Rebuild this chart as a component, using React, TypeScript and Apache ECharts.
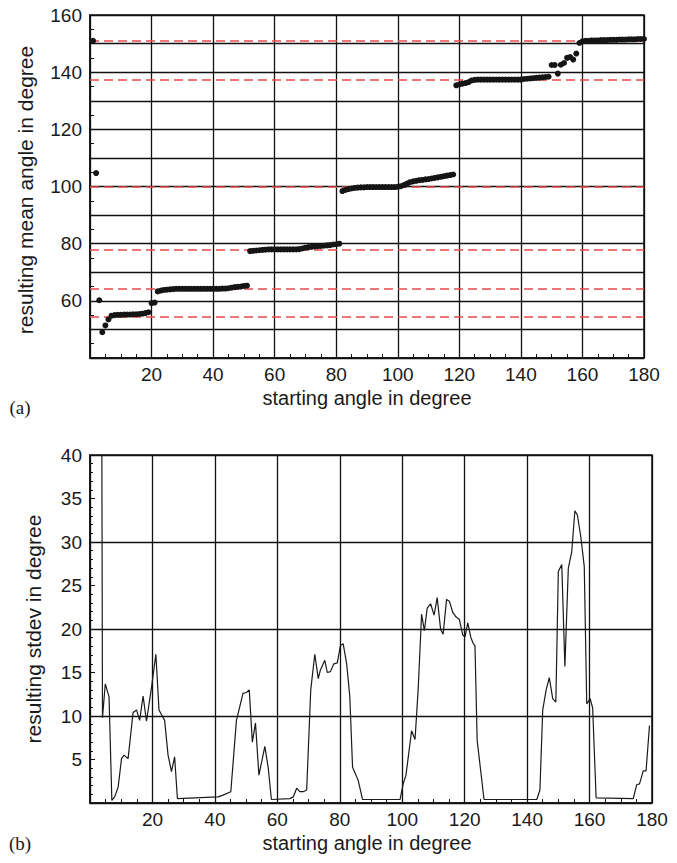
import React, { useEffect, useRef } from "react";
import * as echarts from "echarts";

// ---- data (a): resulting mean angle vs starting angle ----
const meanX: number[] = Array.from({ length: 180 }, (_, i) => i + 1);
const meanY: number[] = [
  151.0, 104.7, 60.2, 49.0, 51.4, 53.5, 54.8, 55.0, 55.1, 55.1,
  55.2, 55.2, 55.2, 55.3, 55.3, 55.4, 55.5, 55.7, 56.0, 59.2,
  59.4, 63.3, 63.6, 63.8, 63.9, 64.0, 64.1, 64.2, 64.2, 64.2,
  64.2, 64.2, 64.2, 64.2, 64.2, 64.2, 64.2, 64.2, 64.2, 64.2,
  64.2, 64.2, 64.3, 64.3, 64.4, 64.6, 64.8, 64.9, 65.0, 65.2,
  65.3, 77.4, 77.5, 77.6, 77.7, 77.8, 77.9, 78.0, 78.0, 78.0,
  78.0, 78.0, 78.0, 78.0, 78.0, 78.0, 78.0, 78.1, 78.3, 78.6,
  78.8, 78.9, 79.0, 79.1, 79.2, 79.3, 79.4, 79.5, 79.7, 79.8,
  80.0, 98.4, 98.8, 99.1, 99.3, 99.5, 99.6, 99.7, 99.7, 99.8,
  99.8, 99.8, 99.8, 99.8, 99.8, 99.8, 99.8, 99.8, 99.8, 99.9,
  100.1, 100.5, 101.0, 101.5, 101.8, 102.0, 102.2, 102.3, 102.5, 102.6,
  102.8, 103.0, 103.2, 103.4, 103.6, 103.8, 104.0, 104.2, 135.4, 135.7,
  136.0, 136.2, 136.5, 137.1, 137.3, 137.4, 137.4, 137.4, 137.4, 137.4,
  137.4, 137.4, 137.4, 137.4, 137.4, 137.4, 137.4, 137.4, 137.4, 137.4,
  137.6, 137.7, 137.8, 137.9, 138.0, 138.1, 138.2, 138.3, 138.4, 142.5,
  142.5, 139.5, 142.6, 143.2, 145.0, 145.3, 144.4, 146.5, 150.2, 150.8,
  151.0, 151.0, 151.1, 151.1, 151.1, 151.2, 151.2, 151.2, 151.3, 151.3,
  151.3, 151.4, 151.4, 151.4, 151.5, 151.5, 151.5, 151.6, 151.6, 151.6,
];
const refLines: number[] = [151.1, 137.4, 99.8, 78.0, 64.3, 54.5];

// ---- data (b): resulting stdev vs starting angle ----
const stdevX: number[] = [
  3.8, 4.0, 4.9, 6.1, 7.0, 7.9, 9.0, 10.1, 10.9, 12.2, 13.8, 14.9, 15.9, 17.0, 18.1,
  19.7, 21.1, 22.1, 23.9, 25.0, 26.1, 27.1, 28.0, 41.0, 42.6, 45.1, 46.9, 49.0, 50.1,
  51.0, 52.0, 53.0, 54.1, 56.0, 57.1, 58.1, 64.0, 65.1, 66.2, 67.2, 68.3, 69.4, 70.7,
  72.0, 73.1, 73.8, 75.2, 76.0, 77.0, 78.1, 79.2, 80.2, 81.1, 82.2, 83.2, 84.1, 85.9,
  87.3, 99.3, 100.3, 101.2, 103.0, 104.1, 105.1, 106.2, 107.1, 108.0, 109.1, 110.2,
  111.2, 112.3, 113.1, 114.2, 115.1, 116.2, 117.2, 118.3, 119.4, 120.1, 121.0, 122.0,
  122.8, 123.3, 124.0, 126.2, 143.1, 144.1, 145.0, 146.1, 147.1, 148.2, 149.2, 150.0,
  151.1, 152.1, 153.2, 154.3, 155.3, 156.1, 157.2, 158.3, 159.1, 160.2, 161.0, 162.1,
  174.0, 175.1, 176.0, 177.2, 178.1, 179.2,
];
const stdevY: number[] = [
  40.0, 9.8, 13.7, 12.2, 0.3, 0.7, 1.8, 5.1, 5.5, 5.1, 10.4, 10.7, 9.5, 12.3, 9.4,
  13.3, 17.1, 10.7, 9.5, 5.5, 3.6, 5.3, 0.5, 0.7, 0.9, 1.3, 9.5, 12.6, 12.7,
  13.0, 7.0, 9.2, 3.2, 6.5, 4.0, 0.4, 0.5, 0.7, 1.7, 1.3, 1.3, 1.5, 13.0,
  17.1, 14.3, 15.3, 16.4, 15.0, 15.1, 16.0, 16.1, 18.1, 18.3, 16.0, 12.3, 4.1, 2.6,
  0.4, 0.4, 2.2, 3.2, 8.3, 7.3, 13.0, 21.7, 19.8, 22.4, 22.9, 21.6,
  23.6, 19.95, 19.4, 23.4, 23.2, 21.9, 21.4, 21.1, 19.3, 19.1, 20.7, 19.0,
  18.3, 18.1, 7.2, 0.4, 0.4, 1.5, 10.7, 13.0, 14.4, 12.0, 11.6, 26.6,
  27.4, 15.7, 27.0, 28.9, 33.6, 33.1, 30.6, 27.2, 11.4, 12.0, 10.9, 0.6,
  0.5, 2.1, 2.2, 3.7, 3.7, 8.9,
];

const SANS = '"Liberation Sans", Arial, Helvetica, sans-serif';
const SERIF = '"Liberation Serif", "Times New Roman", serif';
const INK = "#1a1a1a";
const GRID = "#111";

function xAxisCfg(gridIndex: number) {
  return {
    gridIndex,
    type: "value",
    min: 0,
    max: 180,
    interval: 20,
    axisLine: { show: true, onZero: false, lineStyle: { color: GRID, width: 1.5 } },
    axisTick: { show: true, inside: true, length: 5, lineStyle: { color: GRID, width: 1 } },
    minorTick: { show: true, splitNumber: 4, length: 4, lineStyle: { color: GRID, width: 1 } },
    splitLine: { show: true, lineStyle: { color: GRID, width: 1.3 } },
    axisLabel: {
      margin: 7,
      color: INK,
      fontSize: 19,
      fontFamily: SANS,
      formatter: (v: number) => (v === 0 ? "" : String(v)),
    },
  };
}

export default function App() {
  const ref = useRef<HTMLDivElement>(null);
  useEffect(() => {
    if (!ref.current) return;
    const chart = echarts.init(ref.current, undefined, { renderer: "svg" });
    const option: any = {
      animation: false,
      backgroundColor: "#fff",
      grid: [
        { left: 90, top: 15, width: 554, height: 343, show: true, borderColor: GRID, borderWidth: 1.5 },
        { left: 90, top: 455, width: 562, height: 348, show: true, borderColor: GRID, borderWidth: 1.5 },
      ],
      xAxis: [xAxisCfg(0), xAxisCfg(1)],
      yAxis: [
        {
          gridIndex: 0,
          type: "value",
          min: 40,
          max: 160,
          interval: 10,
          axisLine: { show: true, onZero: false, lineStyle: { color: GRID, width: 1.5 } },
          axisTick: { show: true, inside: true, length: 5, lineStyle: { color: GRID } },
          minorTick: { show: true, splitNumber: 2, length: 4, lineStyle: { color: GRID } },
          splitLine: { show: true, lineStyle: { color: GRID, width: 1.3 } },
          axisLabel: {
            margin: 8,
            color: INK,
            fontSize: 19,
            fontFamily: SANS,
            formatter: (v: number) => (v % 20 === 0 && v > 40 ? String(v) : ""),
          },
        },
        {
          gridIndex: 1,
          type: "value",
          min: 0,
          max: 40,
          interval: 5,
          axisLine: { show: true, onZero: false, lineStyle: { color: GRID, width: 1.5 } },
          axisTick: { show: true, inside: true, length: 5, lineStyle: { color: GRID } },
          minorTick: { show: true, splitNumber: 5, length: 3, lineStyle: { color: GRID } },
          splitLine: { show: false },
          axisLabel: {
            margin: 8,
            color: INK,
            fontSize: 19,
            fontFamily: SANS,
            formatter: (v: number) => (v === 0 ? "" : String(v)),
          },
        },
        {
          gridIndex: 1,
          type: "value",
          position: "right",
          min: 0,
          max: 40,
          interval: 10,
          axisLine: { show: false },
          axisTick: { show: false },
          axisLabel: { show: false },
          splitLine: { show: true, lineStyle: { color: GRID, width: 1.3 } },
        },
      ],
      series: [
        {
          type: "line",
          xAxisIndex: 0,
          yAxisIndex: 0,
          data: [],
          markLine: {
            silent: true,
            symbol: ["none", "none"],
            label: { show: false },
            lineStyle: { color: "#ea4a4a", type: [9, 5], width: 1.5, opacity: 1 },
            data: refLines.map((v) => ({ yAxis: v })),
          },
        },
        {
          type: "scatter",
          xAxisIndex: 0,
          yAxisIndex: 0,
          symbolSize: 6,
          itemStyle: { color: "#151515", opacity: 1 },
          data: meanX.map((x, i) => [x, meanY[i]]),
          z: 5,
        },
        {
          type: "line",
          xAxisIndex: 1,
          yAxisIndex: 1,
          symbol: "none",
          clip: true,
          lineStyle: { color: INK, width: 1.2 },
          data: stdevX.map((x, i) => [x, stdevY[i]]),
        },
      ],
      graphic: [
        {
          type: "text",
          x: 25,
          y: 190,
          rotation: Math.PI / 2,
          style: {
            text: "resulting mean angle in degree",
            font: `21px ${SANS}`,
            fill: INK,
            textAlign: "center",
            textVerticalAlign: "middle",
          },
        },
        {
          type: "text",
          x: 367,
          y: 398,
          style: {
            text: "starting angle in degree",
            font: `20px ${SANS}`,
            fill: INK,
            textAlign: "center",
            textVerticalAlign: "middle",
          },
        },
        {
          type: "text",
          x: 20,
          y: 407,
          style: {
            text: "(a)",
            font: `19px ${SERIF}`,
            fill: INK,
            textAlign: "center",
            textVerticalAlign: "middle",
          },
        },
        {
          type: "text",
          x: 33,
          y: 629,
          rotation: Math.PI / 2,
          style: {
            text: "resulting stdev in degree",
            font: `21px ${SANS}`,
            fill: INK,
            textAlign: "center",
            textVerticalAlign: "middle",
          },
        },
        {
          type: "text",
          x: 367,
          y: 843,
          style: {
            text: "starting angle in degree",
            font: `20px ${SANS}`,
            fill: INK,
            textAlign: "center",
            textVerticalAlign: "middle",
          },
        },
        {
          type: "text",
          x: 20,
          y: 843,
          style: {
            text: "(b)",
            font: `19px ${SERIF}`,
            fill: INK,
            textAlign: "center",
            textVerticalAlign: "middle",
          },
        },
      ],
    };
    chart.setOption(option);
    return () => chart.dispose();
  }, []);
  return (
    <div
      ref={ref}
      style={{ position: "absolute", left: 0, top: 0, width: 677, height: 863 }}
    />
  );
}
